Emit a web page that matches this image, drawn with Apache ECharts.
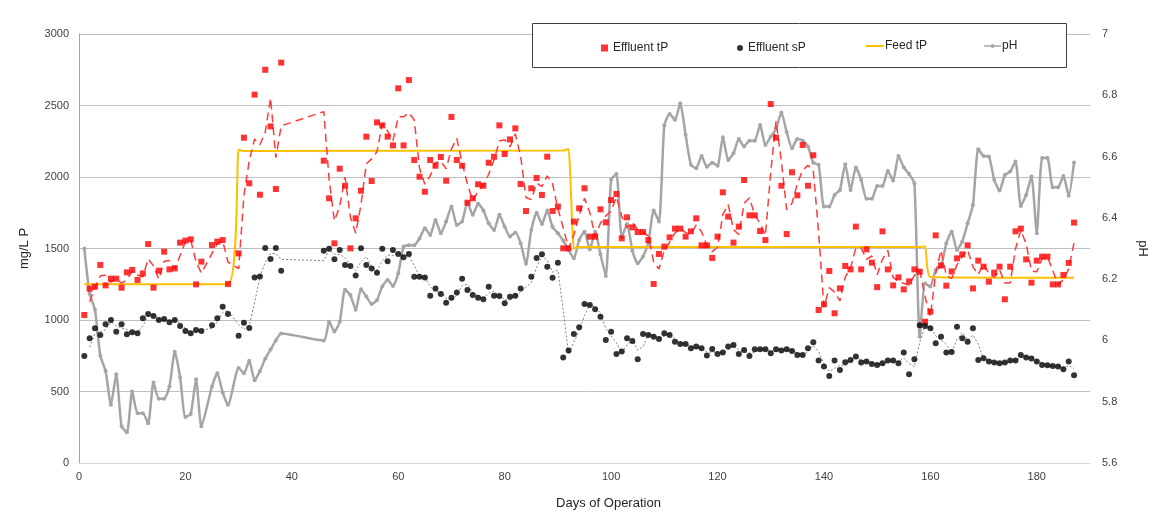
<!DOCTYPE html>
<html>
<head>
<meta charset="utf-8">
<script src="https://cdn.jsdelivr.net/npm/echarts@6/dist/echarts.min.js"></script>
<style>html,body{margin:0;padding:0;background:#fff;}#c{width:1157px;height:520px;}</style>
</head>
<body>
<div id="c"></div>
<script>
var effluentTP = [[1,1035],[2,1219],[3,1233],[4,1385],[5,1242],[6,1289],[7,1289],[8,1226],[9,1333],[10,1350],[11,1280],[12,1326],[13,1531],[14,1226],[15,1345],[16,1478],[17,1354],[18,1361],[19,1541],[20,1555],[21,1564],[22,1249],[23,1408],[25,1524],[26,1548],[27,1559],[28,1252],[30,1466],[31,2275],[32,1956],[33,2576],[34,1876],[35,2750],[36,2354],[37,1916],[38,2800],
[46,2114],[47,1851],[48,1536],[49,2058],[50,1939],[51,1501],[52,1711],[53,1904],[54,2282],[55,1972],[56,2382],[57,2361],[58,2282],[59,2221],[60,2620],[61,2221],[62,2678],[63,2119],[64,2002],[65,1897],[66,2119],[67,2079],[68,2140],[69,1974],[70,2420],[71,2119],[72,2079],[73,1820],[74,1851],[75,1949],[76,1939],[77,2100],[78,2142],[79,2361],[80,2161],[81,2263],[82,2340],[83,1951],[84,1762],[85,1921],[86,1993],[87,1874],[88,2142],[89,1762],[90,1793],[91,1501],[92,1501],[93,1688],[94,1781],[95,1921],[96,1583],[97,1583],[98,1774],[99,1683],[100,1839],[101,1881],[102,1571],[103,1718],[104,1648],[105,1615],[106,1615],[107,1559],[108,1252],[109,1462],[110,1513],[111,1578],[112,1639],[113,1639],[114,1583],[115,1620],[116,1711],[117,1522],[118,1522],[119,1434],[120,1583],[121,1893],[122,1723],[123,1541],[124,1653],[125,1979],[126,1732],[127,1732],[128,1622],[129,1559],[130,2510],[131,2275],[132,1939],[133,1601],[134,2033],[135,1872],[136,2224],[137,1939],[138,2152],[139,1070],[140,1110],[141,1343],[142,1047],[143,1221],[144,1378],[145,1354],[146,1653],[147,1354],[148,1494],[149,1401],[150,1230],[151,1620],[152,1354],[153,1242],[154,1298],[155,1214],[156,1270],[157,1354],[158,1338],[159,988],[160,1058],[161,1592],[162,1382],[163,1240],[164,1340],[165,1431],[166,1459],[167,1522],[168,1221],[169,1415],[170,1373],[171,1268],[172,1331],[173,1373],[174,1145],[175,1373],[176,1620],[177,1639],[178,1424],[179,1261],[180,1415],[181,1443],[182,1443],[183,1249],[184,1249],[185,1315],[186,1399],[187,1681]];

var effluentSP = [[1,748],[2,872],[3,942],[4,895],[5,970],[6,1000],[7,918],[8,970],[9,900],[10,914],[11,907],[12,1012],[13,1042],[14,1028],[15,1000],[16,1007],[17,984],[18,1000],[19,958],[20,923],[21,907],[22,930],[23,923],[25,963],[26,1012],[27,1093],[28,1042],[30,890],[31,981],[32,944],[33,1298],[34,1305],[35,1503],[36,1427],[37,1503],[38,1345],
[46,1485],[47,1499],[48,1424],[49,1490],[50,1385],[51,1378],[52,1312],[53,1501],[54,1385],[55,1361],[56,1331],[57,1499],[58,1410],[59,1490],[60,1462],[61,1438],[62,1462],[63,1303],[64,1303],[65,1298],[66,1170],[67,1221],[68,1182],[69,1121],[70,1156],[71,1193],[72,1289],[73,1210],[74,1175],[75,1156],[76,1145],[77,1233],[78,1170],[79,1168],[80,1117],[81,1163],[82,1170],[83,1221],[85,1303],[86,1434],[87,1459],[88,1373],[89,1296],[90,1401],[91,737],[92,786],[93,902],[94,949],[95,1112],[96,1105],[97,1075],[98,1023],[99,860],[100,918],[101,762],[102,779],[103,872],[104,853],[105,725],[106,902],[107,895],[108,883],[109,867],[110,907],[111,895],[112,848],[113,832],[114,832],[115,802],[116,814],[117,802],[118,751],[119,797],[120,762],[121,772],[122,814],[123,825],[124,762],[125,790],[126,748],[127,795],[128,795],[129,795],[130,767],[131,795],[132,786],[133,795],[134,783],[135,755],[136,755],[137,802],[138,844],[139,716],[140,674],[141,608],[142,716],[143,650],[144,704],[145,720],[146,744],[147,702],[148,709],[149,692],[150,685],[151,697],[152,716],[153,716],[154,697],[155,772],[156,620],[157,725],[158,963],[159,958],[160,942],[161,837],[162,883],[163,772],[164,776],[165,953],[166,872],[167,848],[168,942],[169,720],[170,732],[171,709],[172,702],[173,697],[174,702],[175,716],[176,716],[177,755],[178,737],[179,730],[180,709],[181,685],[182,683],[183,678],[184,674],[185,655],[186,709],[187,613]];

var feedTP = [[1,1250],[28,1250],[30,2190],[31,2182],[91,2185],[92,2195],[93,1500],[94,1510],[158,1510],[159,1515],[160,1300],[187,1295]];

var pH = [[1,6.30],[2,6.152],[3,6.10],[4,5.95],[5,5.90],[6,5.79],[7,5.89],[8,5.72],[9,5.70],[10,5.833],[11,5.762],[12,5.762],[13,5.73],[14,5.863],[15,5.81],[16,5.81],[17,5.85],[18,5.963],[19,5.88],[20,5.75],[21,5.76],[22,5.873],[23,5.72],[25,5.85],[26,5.893],[27,5.83],[28,5.79],[30,5.91],[31,5.893],[32,5.934],[33,5.87],[34,5.90],[35,5.94],[36,5.97],[37,6.00],[38,6.023],
[46,6.0],[47,6.061],[48,6.029],[49,6.061],[50,6.165],[51,6.148],[52,6.10],[53,6.167],[54,6.143],[55,6.119],[56,6.132],[57,6.176],[58,6.197],[59,6.178],[60,6.219],[61,6.306],[62,6.311],[63,6.311],[64,6.333],[65,6.366],[66,6.344],[67,6.393],[68,6.35],[69,6.388],[70,6.437],[71,6.377],[72,6.388],[73,6.45],[74,6.41],[75,6.446],[76,6.424],[77,6.382],[78,6.36],[79,6.41],[80,6.371],[81,6.339],[82,6.352],[83,6.317],[84,6.25],[85,6.36],[86,6.417],[87,6.38],[88,6.424],[89,6.37],[90,6.35],[91,6.326],[92,6.295],[93,6.268],[94,6.328],[95,6.355],[96,6.297],[97,6.355],[98,6.281],[99,6.21],[100,6.524],[101,6.543],[102,6.337],[103,6.38],[104,6.293],[105,6.252],[106,6.274],[107,6.319],[108,6.424],[109,6.388],[110,6.702],[111,6.739],[112,6.72],[113,6.774],[114,6.671],[115,6.573],[116,6.562],[117,6.602],[118,6.567],[119,6.58],[120,6.57],[121,6.663],[122,6.589],[123,6.611],[124,6.657],[125,6.633],[126,6.652],[127,6.652],[128,6.703],[129,6.638],[130,6.665],[131,6.69],[132,6.744],[133,6.68],[134,6.627],[135,6.657],[136,6.652],[137,6.633],[138,6.58],[139,6.573],[140,6.437],[141,6.437],[142,6.475],[143,6.491],[144,6.575],[145,6.491],[146,6.564],[147,6.524],[148,6.462],[149,6.462],[150,6.504],[151,6.504],[152,6.553],[153,6.522],[154,6.602],[155,6.565],[156,6.543],[157,6.513],[158,6.012],[159,6.186],[160,6.176],[161,6.23],[162,6.241],[163,6.317],[164,6.355],[165,6.295],[166,6.323],[167,6.382],[168,6.442],[169,6.624],[170,6.602],[171,6.6],[172,6.524],[173,6.489],[174,6.54],[175,6.551],[176,6.584],[177,6.439],[178,6.475],[179,6.535],[180,6.35],[181,6.595],[182,6.595],[183,6.5],[184,6.5],[185,6.537],[186,6.472],[187,6.581]];

var xTickLabels = ['0','20','40','60','80','100','120','140','160','180'];

// Excel-style 2-period moving average trendline of the plotted points
function movingAvg(arr){
  var out=[];
  for(var i=1;i<arr.length;i++){out.push([arr[i][0],(arr[i][1]+arr[i-1][1])/2]);}
  return out;
}

var FONT = 'Liberation Sans';
var chart = echarts.init(document.getElementById('c'), null, {renderer:'canvas'});
var txt = {fontFamily:FONT,fontSize:12,color:'#262626'};
var phIcon = 'path://M0,3.2H7.2A2,2 0 0,1 10.8,3.2H18V4.8H10.8A2,2 0 0,1 7.2,4.8H0Z';
chart.setOption({
  animation:false,
  backgroundColor:'#fff',
  textStyle:{fontFamily:FONT},
  grid:{left:79,right:64,top:34,bottom:57,containLabel:false},
  graphic:[{type:'rect',left:532,top:23,shape:{width:534,height:44},style:{fill:'#fff',stroke:'#404040',lineWidth:1},z:50}],
  legend:[
    {left:596,top:37,itemWidth:7,itemHeight:7,selectedMode:false,textStyle:txt,z:60,
     data:[{name:'Effluent tP',icon:'rect',itemStyle:{color:'#FF0000'}}]},
    {left:732,top:37,itemWidth:6,itemHeight:6,selectedMode:false,textStyle:txt,z:60,
     data:[{name:'Effluent sP',icon:'circle',itemStyle:{color:'#000'}}]},
    {left:861,top:35,itemWidth:18,itemHeight:2,itemGap:0,selectedMode:false,z:60,
     textStyle:Object.assign({},txt,{padding:[0,0,0,-4]}),
     data:[{name:'Feed tP',icon:'rect',itemStyle:{color:'#FFC000'}}]},
    {left:979,top:35,itemWidth:17,itemHeight:5,selectedMode:false,z:60,
     textStyle:Object.assign({},txt,{padding:[0,0,0,-4]}),
     data:[{name:'pH',icon:phIcon,itemStyle:{color:'#A5A5A5'}}]}
  ],
  xAxis:{type:'value',min:0,max:190,interval:20,
    name:'Days of Operation',nameLocation:'middle',nameGap:34,
    nameTextStyle:{fontFamily:FONT,fontSize:13,color:'#262626',padding:[0,0,0,48]},
    axisLine:{show:true,lineStyle:{color:'#D9D9D9',width:1}},axisTick:{show:false},
    axisLabel:{color:'#404040',fontSize:11,fontFamily:FONT,margin:8,
      formatter:function(v){var i=Math.round(v/20);return (v%20===0 && i<xTickLabels.length)?xTickLabels[i]:'';}},
    splitLine:{show:false}},
  yAxis:[
    {type:'value',min:0,max:3000,interval:500,name:'mg/L P',nameLocation:'middle',nameGap:48,
     nameTextStyle:{fontFamily:FONT,fontSize:13,color:'#262626'},
     axisLine:{show:true,lineStyle:{color:'#A6A6A6'}},axisTick:{show:false},
     axisLabel:{color:'#404040',fontSize:11,fontFamily:FONT,margin:10,formatter:function(v){return String(v);}},
     splitLine:{show:true,lineStyle:{color:'#BFBFBF',width:1}}},
    {type:'value',min:5.6,max:7,interval:0.2,name:'pH',nameLocation:'middle',nameGap:46,nameRotate:-90,
     nameTextStyle:{fontFamily:FONT,fontSize:13,color:'#262626'},
     axisLine:{show:false},axisTick:{show:false},
     axisLabel:{color:'#404040',fontSize:11,fontFamily:FONT,margin:12,
       formatter:function(v){return String(Math.round(v*10)/10);}},
     splitLine:{show:false}}
  ],
  series:[
    {name:'pH',type:'line',yAxisIndex:1,data:pH,smooth:0.2,symbol:'circle',symbolSize:4,
     lineStyle:{color:'#A5A5A5',width:2.5},itemStyle:{color:'#A5A5A5'},z:2},
    {name:'Feed tP',type:'line',data:feedTP,smooth:0.15,showSymbol:false,symbol:'none',
     lineStyle:{color:'#FFC000',width:2},itemStyle:{color:'#FFC000'},z:3},
    {name:'tP trend',type:'line',data:movingAvg(effluentTP),showSymbol:false,symbol:'none',
     lineStyle:{color:'#FF3B3B',width:1.5,type:[8,5]},z:4,silent:true},
    {name:'sP trend',type:'line',data:movingAvg(effluentSP),showSymbol:false,symbol:'none',
     lineStyle:{color:'#7F7F7F',width:1,type:[2,2]},z:4,silent:true},
    {name:'Effluent tP',type:'scatter',data:effluentTP,symbol:'rect',symbolSize:6,
     itemStyle:{color:'#FF0000'},z:5},
    {name:'Effluent sP',type:'scatter',data:effluentSP,symbol:'circle',symbolSize:6,
     itemStyle:{color:'#000000'},z:5}
  ]
});
</script>
</body>
</html>
